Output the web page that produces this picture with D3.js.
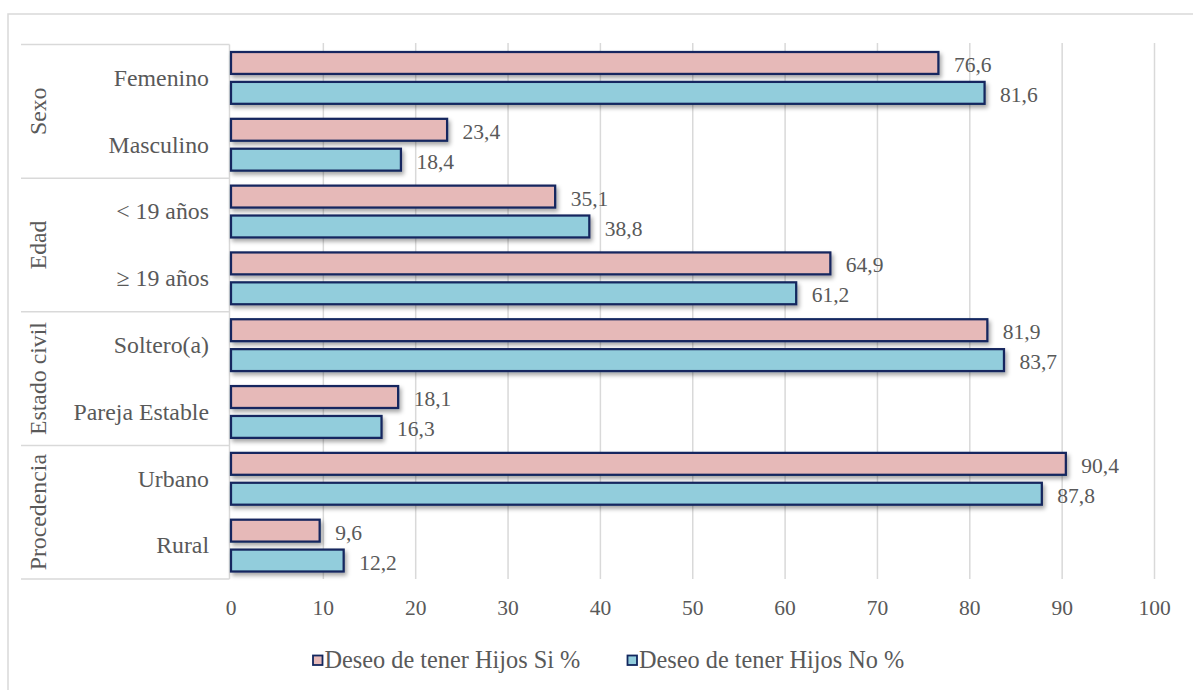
<!DOCTYPE html>
<html>
<head>
<meta charset="utf-8">
<script src="https://cdn.jsdelivr.net/npm/d3@7"></script>
</head>
<body style="margin:0">
<svg id="chart" width="1193" height="690"></svg>
<script>
const groups = ["Sexo", "Edad", "Estado civil", "Procedencia"];
const categories = ["Femenino", "Masculino", "< 19 años", "≥ 19 años", "Soltero(a)", "Pareja Estable", "Urbano", "Rural"];
const categoryGroup = ["Sexo", "Sexo", "Edad", "Edad", "Estado civil", "Estado civil", "Procedencia", "Procedencia"];
const seriesNames = ["Deseo de tener Hijos Si %", "Deseo de tener Hijos No %"];
const valuesSi = [76.6, 23.4, 35.1, 64.9, 81.9, 18.1, 90.4, 9.6];
const valuesNo = [81.6, 18.4, 38.8, 61.2, 83.7, 16.3, 87.8, 12.2];
const tickValues = [0, 10, 20, 30, 40, 50, 60, 70, 80, 90, 100];

const colors = ["#E6B9B8", "#92CDDC"];
const strokeColor = "#13275E";
const textColor = "#595959";
const gridColor = "#D9D9D9";

const svg = d3.select("#chart");
function txt(sel) {
  return sel.attr("font-family", "'Liberation Serif', 'Times New Roman'").attr("fill", textColor);
}

// outer border
svg.append("rect").attr("x", 8).attr("y", 14).attr("width", 1300).attr("height", 800)
  .attr("fill", "none").attr("stroke", gridColor).attr("stroke-width", 1.5);

const plot = { left: 231, right: 1154.5, top: 44.5, bottom: 579 };

const x = d3.scaleLinear().domain([0, 100]).range([plot.left, plot.right]);
const y0 = d3.scaleBand().domain(categories).range([plot.top, plot.bottom]).padding(0);
const y1 = d3.scaleBand().domain(seriesNames).range([6.5, y0.bandwidth() - 6.5]).paddingInner(0.2);

// shadow filter
const defs = svg.append("defs");
const f = defs.append("filter").attr("id", "shadow").attr("x", "-10%").attr("y", "-50%").attr("width", "130%").attr("height", "220%");
f.append("feDropShadow").attr("dx", 2).attr("dy", 3).attr("stdDeviation", 2)
  .attr("flood-color", "#000").attr("flood-opacity", 0.35);

// gridlines
svg.append("g").selectAll("line").data(tickValues.slice(1)).join("line")
  .attr("x1", d => x(d)).attr("x2", d => x(d))
  .attr("y1", plot.top - 1.5).attr("y2", plot.bottom)
  .attr("stroke", gridColor).attr("stroke-width", 1.5);

// category axis line
svg.append("line").attr("x1", plot.left - 1.5).attr("x2", plot.left - 1.5)
  .attr("y1", plot.top).attr("y2", plot.bottom)
  .attr("stroke", gridColor).attr("stroke-width", 1.5);

// group separators
const groupBounds = [];
groups.forEach(g => {
  const cats = categories.filter((c, i) => categoryGroup[i] === g);
  const top = y0(cats[0]);
  const bottom = y0(cats[cats.length - 1]) + y0.bandwidth();
  groupBounds.push({ g, top, bottom });
});
const sepYs = [plot.top].concat(groupBounds.map(d => d.bottom));
svg.append("g").selectAll("line").data(sepYs).join("line")
  .attr("x1", 21).attr("x2", plot.left - 1.5)
  .attr("y1", d => d).attr("y2", d => d)
  .attr("stroke", gridColor).attr("stroke-width", 1.5);

// group labels
txt(svg.append("g").selectAll("text").data(groupBounds).join("text"))
  .attr("transform", d => `translate(38,${(d.top + d.bottom) / 2}) rotate(-90)`)
  .attr("text-anchor", "middle").attr("dy", "0.33em")
  .attr("font-size", 23.8).text(d => d.g);

// category labels
txt(svg.append("g").selectAll("text").data(categories).join("text"))
  .attr("x", 209).attr("y", d => y0(d) + y0.bandwidth() / 2)
  .attr("text-anchor", "end").attr("dy", "0.33em")
  .attr("font-size", 23.8).text(d => d);

// bars
const rows = categories.map((c, i) => ({ c, vals: [valuesSi[i], valuesNo[i]] }));
const barG = svg.append("g");
rows.forEach(r => {
  r.vals.forEach((v, j) => {
    const s = seriesNames[j];
    barG.append("rect")
      .attr("x", x(0)).attr("y", y0(r.c) + y1(s) + 1)
      .attr("width", x(v) - x(0)).attr("height", y1.bandwidth() - 2)
      .attr("fill", colors[j]).attr("stroke", strokeColor).attr("stroke-width", 2.25)
      .attr("filter", "url(#shadow)");
    txt(barG.append("text"))
      .attr("x", x(v) + 15.5).attr("y", y0(r.c) + y1(s) + y1.bandwidth() / 2 + 2)
      .attr("dy", "0.33em").attr("font-size", 21.5)
      .text(String(v.toFixed(1)).replace(".", ","));
  });
});

// x axis tick labels
txt(svg.append("g").selectAll("text").data(tickValues).join("text"))
  .attr("x", d => x(d)).attr("y", 615)
  .attr("text-anchor", "middle").attr("font-size", 21.5).text(d => d);

// legend
const legendX = [312.5, 627];
const lg = svg.append("g");
seriesNames.forEach((s, j) => {
  lg.append("rect").attr("x", legendX[j] + 0.5).attr("y", 655.5).attr("width", 9.5).attr("height", 9.5)
    .attr("fill", colors[j]).attr("stroke", strokeColor).attr("stroke-width", 1.8);
  txt(lg.append("text")).attr("x", legendX[j] + 12).attr("y", 667.5)
    .attr("font-size", 24.3).text(s);
});
</script>
</body>
</html>
